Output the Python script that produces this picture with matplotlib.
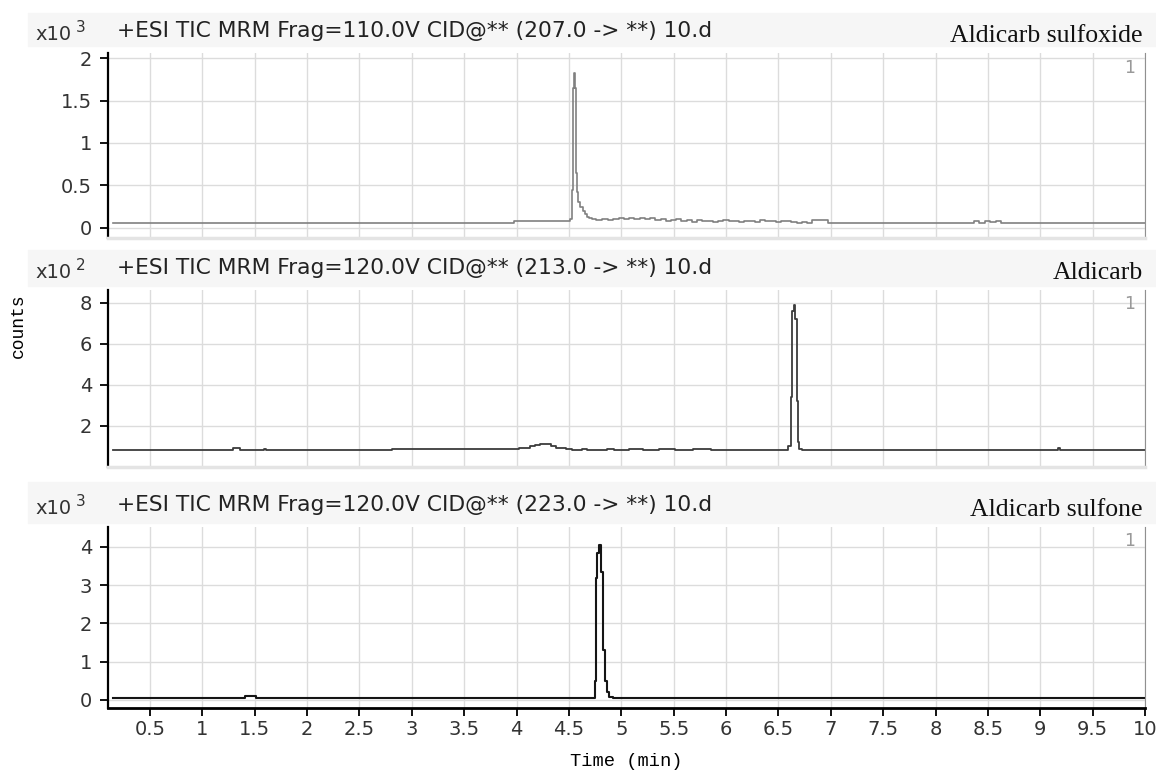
import matplotlib.pyplot as plt
from matplotlib.patches import Rectangle

# retention time (min) and counts for the three MRM traces
t1 = [0.15, 3.97, 3.98, 4.50, 4.52, 4.53, 4.54, 4.55, 4.56, 4.57, 4.58, 4.60, 4.62, 4.64, 4.66, 4.68, 4.70, 4.74, 4.78,
      4.85, 4.90, 4.95, 5.00, 5.05, 5.10, 5.15, 5.20, 5.25, 5.30, 5.35, 5.40, 5.45, 5.50, 5.55, 5.60, 5.65, 5.70,
      5.75, 5.80, 5.85, 5.90, 5.95, 6.00, 6.05, 6.10, 6.15, 6.20, 6.25, 6.30, 6.35, 6.40, 6.45, 6.50, 6.55, 6.60,
      6.65, 6.70, 6.75, 6.80, 6.85, 6.90, 6.95, 7.00, 8.35, 8.38, 8.45, 8.50, 8.55, 8.60, 8.65, 10.0]
y1 = [0.06, 0.06, 0.08, 0.08, 0.10, 0.45, 1.65, 1.82, 1.65, 0.65, 0.42, 0.30, 0.24, 0.20, 0.16, 0.13, 0.11, 0.10, 0.09,
      0.10, 0.09, 0.10, 0.11, 0.10, 0.11, 0.10, 0.12, 0.10, 0.11, 0.09, 0.10, 0.08, 0.09, 0.10, 0.08, 0.09, 0.07,
      0.09, 0.08, 0.08, 0.07, 0.08, 0.09, 0.08, 0.08, 0.07, 0.08, 0.08, 0.07, 0.09, 0.08, 0.08, 0.07, 0.08, 0.08,
      0.07, 0.06, 0.07, 0.06, 0.09, 0.09, 0.09, 0.06, 0.06, 0.08, 0.06, 0.08, 0.07, 0.08, 0.06, 0.06]

t2 = [0.15, 1.28, 1.30, 1.35, 1.37, 1.58, 1.60, 1.62, 4.00, 4.05, 4.10, 4.15, 4.20, 4.25, 4.30, 4.35, 4.40, 4.45,
      4.50, 4.55, 4.60, 4.65, 4.70, 4.75, 4.80, 4.92, 4.94, 5.20, 5.22, 5.50, 5.52, 5.85, 5.87, 6.58, 6.61, 6.625,
      6.64, 6.655, 6.67, 6.68, 6.69, 6.71, 6.75, 9.16, 9.18, 9.20, 10.0]
y2 = [0.85, 0.85, 0.92, 0.92, 0.85, 0.85, 0.90, 0.85, 0.88, 0.95, 0.92, 1.00, 1.08, 1.12, 1.10, 1.02, 0.95, 0.92,
      0.88, 0.85, 0.82, 0.86, 0.82, 0.84, 0.85, 0.90, 0.85, 0.90, 0.85, 0.90, 0.85, 0.90, 0.85, 0.85, 1.00, 3.40,
      7.60, 7.90, 7.20, 3.20, 1.20, 0.90, 0.85, 0.85, 0.92, 0.85, 0.85]

t3 = [0.15, 1.40, 1.42, 1.50, 1.52, 4.74, 4.755, 4.765, 4.78, 4.80, 4.815, 4.83, 4.85, 4.87, 4.90, 4.95, 10.0]
y3 = [0.05, 0.05, 0.10, 0.10, 0.05, 0.05, 0.50, 3.20, 3.85, 4.05, 3.35, 1.30, 0.50, 0.20, 0.08, 0.05, 0.05]

titles = ['+ESI TIC MRM Frag=110.0V CID@** (207.0 -> **) 10.d',
          '+ESI TIC MRM Frag=120.0V CID@** (213.0 -> **) 10.d',
          '+ESI TIC MRM Frag=120.0V CID@** (223.0 -> **) 10.d']
names = ['Aldicarb sulfoxide', 'Aldicarb', 'Aldicarb sulfone']
exps = ['3', '2', '3']
yticks = [[0, 0.5, 1, 1.5, 2], [2, 4, 6, 8], [0, 1, 2, 3, 4]]
yticklabels = [['0', '0.5', '1', '1.5', '2'], ['2', '4', '6', '8'], ['0', '1', '2', '3', '4']]
ylims = [(-0.12, 2.06), (0.0, 8.63), (-0.21, 4.52)]
xticks = [0.5, 1, 1.5, 2, 2.5, 3, 3.5, 4, 4.5, 5, 5.5, 6, 6.5, 7, 7.5, 8, 8.5, 9, 9.5, 10]
xticklabels = ['0.5', '1', '1.5', '2', '2.5', '3', '3.5', '4', '4.5', '5', '5.5', '6', '6.5', '7', '7.5',
               '8', '8.5', '9', '9.5', '10']

W, H = 1156, 775
fig = plt.figure(figsize=(W / 100, H / 100), dpi=100)
sans = 'DejaVu Sans'
mono = 'Liberation Mono'

# axes boxes in pixels: (top, bottom)
boxes = [(53, 238), (290, 467), (527, 708)]
bands = [(13, 46), (250, 286), (482, 523)]
colors = ['#808080', '#3c3c3c', '#151515']
widths = [1.2, 1.3, 1.5]
data = [(t1, y1), (t2, y2), (t3, y3)]
left, right = 108, 1145

for i in range(3):
    top, bot = boxes[i]
    b0, b1 = bands[i]
    fig.patches.append(Rectangle((28 / W, 1 - b1 / H), (W - 28) / W, (b1 - b0) / H,
                                 transform=fig.transFigure, color='#f6f6f6', zorder=0))
    ax = fig.add_axes([left / W, 1 - bot / H, (right - left) / W, (bot - top) / H])
    t, y = data[i]
    ax.plot(t, y, color=colors[i], lw=widths[i], drawstyle='steps-mid')
    ax.set_xlim(0.1, 10.0)
    ax.set_ylim(*ylims[i])
    ax.set_xticks(xticks)
    ax.set_yticks(yticks[i])
    ax.set_yticklabels(yticklabels[i], fontsize=14, family=sans, color='#333333')
    ax.grid(True, color='#dcdcdc', lw=1)
    ax.set_axisbelow(True)
    ax.spines['top'].set_visible(False)
    ax.spines['left'].set_linewidth(1.6)
    ax.spines['right'].set_color('#909090')
    ax.tick_params(axis='y', length=5.5, width=1.3, pad=6)
    if i < 2:
        ax.spines['bottom'].set_color('#e4e4e4')
        ax.spines['bottom'].set_linewidth(2.5)
        ax.tick_params(axis='x', length=0, labelbottom=False)
    else:
        ax.spines['bottom'].set_linewidth(2)
        ax.set_xticklabels(xticklabels, fontsize=14, family=sans, color='#333333')
        ax.tick_params(axis='x', length=5.5, width=1.3, pad=3)
        ax.set_xlabel('Time (min)', family=mono, fontsize=13.5, labelpad=10)
    ym = 1 - (top - 22) / H
    fig.text(72 / W, ym - 4 / H, 'x10', ha='right', va='center', fontsize=14, family=sans, color='#333333')
    fig.text(76 / W, ym + 3 / H, exps[i], ha='left', va='center', fontsize=11, family=sans, color='#333333')
    fig.text(117 / W, ym, titles[i], ha='left', va='center', fontsize=15.7, family=sans, color='#222222')
    fig.text(1143 / W, ym - 5 / H, names[i], ha='right', va='center', fontsize=18.5,
             family='Liberation Serif', color='#111111')
    ax.text(0.99, 0.92, '1', transform=ax.transAxes, ha='right', va='center', fontsize=12.5,
            family=sans, color='#999999')

fig.text(18 / W, 1 - 326 / H, 'counts', rotation=90, ha='center', va='center',
         family=mono, fontsize=13)

fig.savefig('out.png', dpi=100)
